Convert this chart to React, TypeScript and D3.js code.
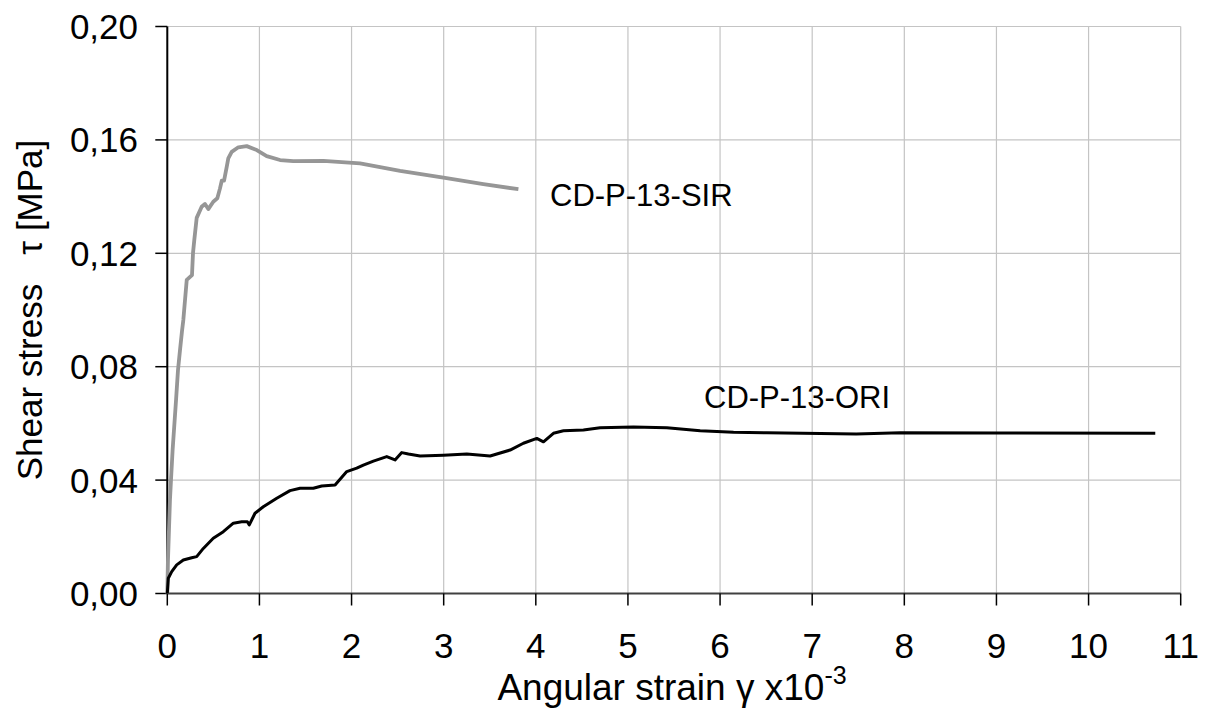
import React from "react";
import * as d3 from "d3";

const xTicks = [0, 1, 2, 3, 4, 5, 6, 7, 8, 9, 10, 11];
const yTicks = [0, 0.04, 0.08, 0.12, 0.16, 0.2];
const yTickLabels = ["0,00", "0,04", "0,08", "0,12", "0,16", "0,20"];

const sirX = [0, 0.007, 0.029, 0.04, 0.058, 0.095, 0.116, 0.138, 0.16, 0.174, 0.211, 0.268, 0.279, 0.293, 0.319, 0.373, 0.409, 0.445, 0.499, 0.543, 0.572, 0.591, 0.616, 0.645, 0.662, 0.699, 0.771, 0.862, 0.971, 1.079, 1.224, 1.368, 1.694, 2.092, 2.527, 2.997, 3.431, 3.811];
const sirY = [0, 0.0116, 0.0331, 0.04, 0.0508, 0.0683, 0.0788, 0.0859, 0.0927, 0.0965, 0.1106, 0.1123, 0.1201, 0.1247, 0.1325, 0.1364, 0.1374, 0.1356, 0.1382, 0.1394, 0.1429, 0.1456, 0.1456, 0.1505, 0.1535, 0.1558, 0.1574, 0.1578, 0.1564, 0.1543, 0.1529, 0.1525, 0.1526, 0.1517, 0.1491, 0.1467, 0.1444, 0.1426];

const oriX = [0, 0.011, 0.048, 0.102, 0.174, 0.265, 0.319, 0.391, 0.499, 0.608, 0.717, 0.808, 0.869, 0.89, 0.952, 1.042, 1.188, 1.332, 1.441, 1.585, 1.676, 1.821, 1.948, 2.056, 2.128, 2.237, 2.382, 2.472, 2.545, 2.617, 2.744, 2.997, 3.251, 3.504, 3.721, 3.865, 4.011, 4.083, 4.191, 4.3, 4.517, 4.698, 5.06, 5.422, 5.784, 6.146, 6.508, 7.478, 7.955, 9.041, 10.724];
const oriY = [0, 0.0054, 0.0077, 0.0101, 0.0118, 0.0126, 0.013, 0.0159, 0.0195, 0.0218, 0.0248, 0.0253, 0.0253, 0.0242, 0.0283, 0.0306, 0.0336, 0.0363, 0.0371, 0.0371, 0.0379, 0.0383, 0.043, 0.0442, 0.0453, 0.0467, 0.0483, 0.0471, 0.0497, 0.0492, 0.0485, 0.0488, 0.0492, 0.0485, 0.0506, 0.053, 0.0547, 0.0535, 0.0565, 0.0574, 0.0577, 0.0585, 0.0587, 0.0585, 0.0574, 0.0569, 0.0567, 0.0563, 0.0567, 0.0566, 0.0565];

const FONT = "'Liberation Sans', Arial, sans-serif";

export default function App() {
  const x = d3.scaleLinear().domain([0, 11]).range([167.3, 1180.7]);
  const y = d3.scaleLinear().domain([0, 0.2]).range([593.5, 26.5]);
  const line = d3
    .line<[number, number]>()
    .x((d) => x(d[0]))
    .y((d) => y(d[1]));
  const sir: [number, number][] = sirX.map((v, i) => [v, sirY[i]]);
  const ori: [number, number][] = oriX.map((v, i) => [v, oriY[i]]);

  return (
    <svg
      width={1206}
      height={713}
      style={{ position: "absolute", left: 0, top: 0, background: "#fff" }}
      fontFamily={FONT}
    >
      <rect x={0} y={0} width={1206} height={713} fill="#fff" />
      {/* grid */}
      {xTicks.map((t) => (
        <line key={"gx" + t} x1={x(t)} x2={x(t)} y1={y(0.2)} y2={y(0)} stroke="#c4c4c4" strokeWidth={1.2} />
      ))}
      {yTicks.map((t) => (
        <line key={"gy" + t} x1={x(0)} x2={x(11)} y1={y(t)} y2={y(t)} stroke="#c4c4c4" strokeWidth={1.2} />
      ))}
      {/* axes */}
      <line x1={x(0)} x2={x(11)} y1={y(0)} y2={y(0)} stroke="#404040" strokeWidth={2} />
      <line x1={x(0)} x2={x(0)} y1={y(0.2)} y2={y(0)} stroke="#000" strokeWidth={2} />
      {xTicks.map((t) => (
        <g key={"xt" + t}>
          <line x1={x(t)} x2={x(t)} y1={y(0)} y2={y(0) + 12} stroke="#000" strokeWidth={1.5} />
          <text x={x(t)} y={658} fontSize={35} textAnchor="middle" fill="#000">
            {t}
          </text>
        </g>
      ))}
      {yTicks.map((t, i) => (
        <g key={"yt" + t}>
          <line x1={x(0) - 12} x2={x(0)} y1={y(t)} y2={y(t)} stroke="#000" strokeWidth={1.5} />
          <text x={138} y={y(t) + 12.5} fontSize={35} textAnchor="end" fill="#000">
            {yTickLabels[i]}
          </text>
        </g>
      ))}
      {/* series */}
      <path d={line(sir) || ""} fill="none" stroke="#969696" strokeWidth={3.8} strokeLinejoin="round" />
      <path d={line(ori) || ""} fill="none" stroke="#000" strokeWidth={3} strokeLinejoin="round" />
      {/* labels */}
      <text x={550} y={206} fontSize={31} fill="#000">CD-P-13-SIR</text>
      <text x={704} y={408} fontSize={31} fill="#000">CD-P-13-ORI</text>
      {/* x title */}
      <text x={672} y={700} fontSize={37} textAnchor="middle" fill="#000">
        Angular strain γ x10<tspan dy={-16} fontSize={25}>-3</tspan>
      </text>
      {/* y title */}
      <text
        transform="translate(42,310) rotate(-90)"
        fontSize={35}
        textAnchor="middle"
        fill="#000"
        style={{ whiteSpace: "pre" }}
      >
        {"Shear stress   τ [MPa]"}
      </text>
    </svg>
  );
}
